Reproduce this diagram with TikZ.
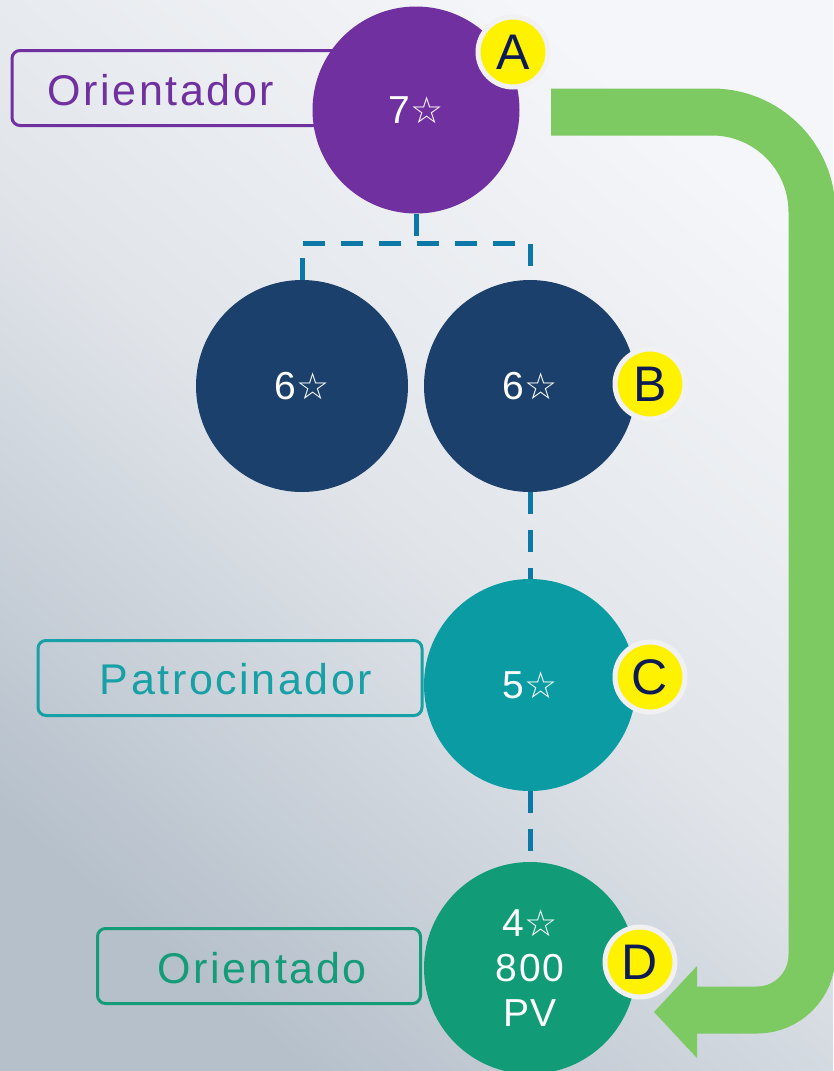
\documentclass[tikz,border=0pt]{standalone}
\usepackage{fontspec}
\setmainfont{Liberation Sans}
\newfontfamily\symfont{DejaVu Sans}
\newcommand{\mystar}{{\symfont\fontsize{37}{37}\selectfont ☆}}
\definecolor{bgl}{HTML}{F5F6F9}
\definecolor{bgm}{HTML}{E1E5EA}
\definecolor{bgd}{HTML}{B6C0CB}
\definecolor{cpurple}{HTML}{7030A0}
\definecolor{cnavy}{HTML}{1B406B}
\definecolor{cteal}{HTML}{0A9BA3}
\definecolor{cgreen}{HTML}{119B76}
\definecolor{lteal}{HTML}{17A0A5}
\definecolor{lgreen}{HTML}{149B78}
\definecolor{dashblue}{HTML}{0B78A8}
\definecolor{arrowgreen}{HTML}{7DC962}
\definecolor{ringgray}{HTML}{F1F1F3}
\definecolor{lettnavy}{HTML}{0D1B55}
\begin{document}
\begin{tikzpicture}[x=1pt,y=-1pt,
  bigcirc/.style={circle, minimum size=212pt, inner sep=0pt, text=white, align=center,
    font=\fontsize{39}{45}\selectfont\addfontfeature{LetterSpace=5}},
  badge/.style={circle, minimum size=70pt, inner sep=0pt, fill=yellow, draw=ringgray,
    line width=5pt, text=lettnavy, font=\fontsize{50}{50}\selectfont},
  lblbox/.style={draw, line width=3pt, rounded corners=8pt, minimum height=75pt, inner sep=0pt},
  lbltext/.style={font=\fontsize{43}{50}\selectfont\addfontfeature{LetterSpace=6}},
  dashline/.style={draw=dashblue, line width=5pt, dash pattern=on 22pt off 16pt},
]
\useasboundingbox (0,0) rectangle (833,1071);
\shade[top color=bgl, bottom color=bgd, middle color=bgm, shading angle=-40] (0,0) rectangle (833,1071);

% label boxes (behind circles)
\node[lblbox, draw=cpurple, minimum width=330pt] (boxA) at (177,88) {};
\node[lbltext, text=cpurple] (txtA) at (161,90) {Orientador};
\node[lblbox, draw=lteal, minimum width=384pt] (boxC) at (230,678) {};
\node[lbltext, text=lteal] (txtC) at (236,679) {Patrocinador};
\node[lblbox, draw=lgreen, minimum width=323pt] (boxD) at (259,966) {};
\node[lbltext, text=lgreen] (txtD) at (262,968) {Orientado};

% green arrow
\coordinate (gs) at (551,112);
\coordinate (ge) at (697,1010);
\draw[arrowgreen, line width=47pt] (gs) [rounded corners=100pt] -- (812,112) [rounded corners=55pt] -- (812,1010) -- (ge);
\fill[arrowgreen] (697,966) -- (654,1012) -- (697,1058) -- cycle;

% circles
\node[bigcirc, fill=cpurple, minimum size=207pt] (A) at (416,110) {7\mystar};
\node[bigcirc, fill=cnavy] (B1) at (302,386) {6\mystar};
\node[bigcirc, fill=cnavy] (B2) at (530,386) {6\mystar};
\node[bigcirc, fill=cteal] (C) at (530,685) {5\mystar};
\node[bigcirc, fill=cgreen] (D) at (530,968) {4\mystar\\800\\PV};

% dashed connectors
\coordinate (j) at (416,243);
\draw[dashline] (A.south) -- (j);
\draw[dashline] (B1.north) |- (j) -| (B2.north);
\draw[dashline] (B2.south) -- (C.north);
\draw[dashline] (C.south) -- (D.north);

% badges
\node[badge] (bA) at (513,52) {A};
\node[badge] (bB) at (650,384) {B};
\node[badge] (bC) at (650,677) {C};
\node[badge] (bD) at (640,962) {D};
\end{tikzpicture}
\end{document}
